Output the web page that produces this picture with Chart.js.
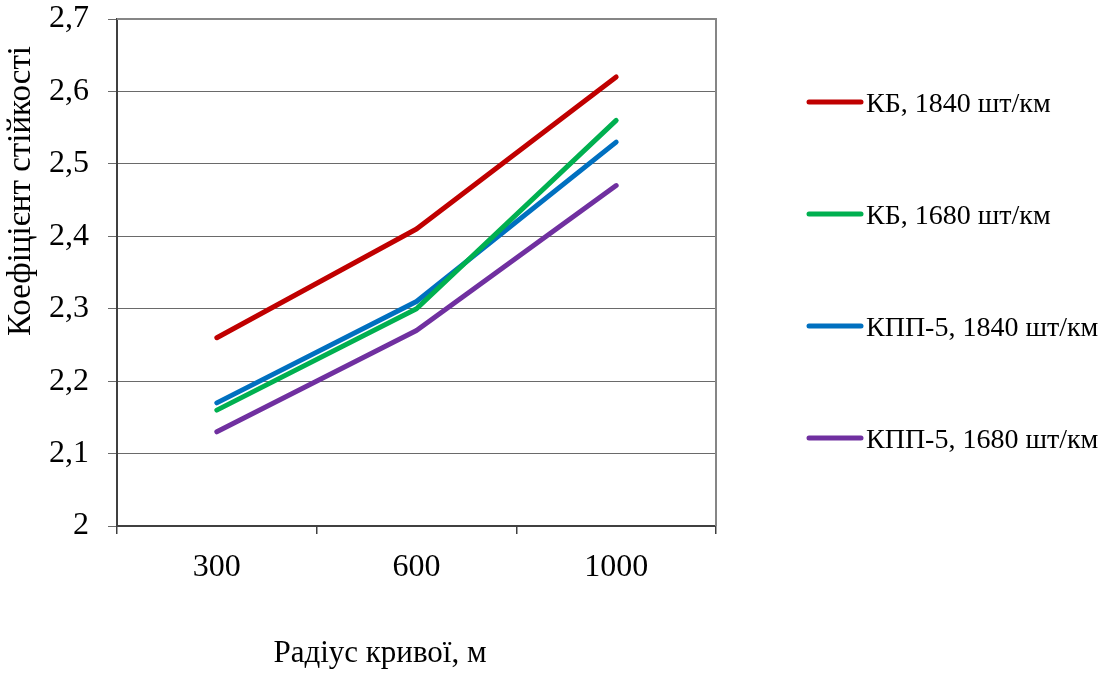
<!DOCTYPE html>
<html>
<head>
<meta charset="utf-8">
<script src="https://cdn.jsdelivr.net/npm/chart.js@4/dist/chart.umd.min.js"></script>
<style>
  html, body { margin: 0; padding: 0; background: #ffffff; }
  #wrap { width: 1103px; height: 673px; position: relative; }
</style>
</head>
<body>
<div id="wrap"><canvas id="chart" width="1103" height="673"></canvas></div>
<script>
// Радіус кривої, м
const radii = ['300', '600', '1000'];

// Коефіцієнт стійкості for each fastening type and sleeper density
const kb1840 = [2.26, 2.41, 2.62];
const kb1680 = [2.16, 2.30, 2.56];
const kpp1840 = [2.17, 2.31, 2.53];
const kpp1680 = [2.13, 2.27, 2.47];

const seriesNames = ['КБ, 1840 шт/км', 'КБ, 1680 шт/км', 'КПП-5, 1840 шт/км', 'КПП-5, 1680 шт/км'];
const seriesColors = ['#C00000', '#00B050', '#0070C0', '#7030A0'];

const yTitle = 'Коефіцієнт стійкості';
const xTitle = 'Радіус кривої, м';

const FONT = '"Liberation Serif", "Times New Roman", serif';

// Axis titles and the right-hand legend, placed like the office-style layout
const decorations = {
  id: 'decorations',
  afterDraw(chart) {
    const ctx = chart.ctx;
    const area = chart.chartArea;
    ctx.save();

    // plot frame: grey top/right, darker axes
    ctx.lineCap = 'butt';
    ctx.strokeStyle = '#868686';
    ctx.lineWidth = 2;
    ctx.beginPath();
    ctx.moveTo(area.left, area.top);
    ctx.lineTo(area.right, area.top);
    ctx.lineTo(area.right, area.bottom);
    ctx.stroke();

    ctx.fillStyle = '#000';
    ctx.textAlign = 'center';
    ctx.textBaseline = 'middle';
    ctx.font = '31px ' + FONT;
    ctx.fillText(xTitle, 380, 654);

    ctx.save();
    ctx.translate(21, 191);
    ctx.rotate(-Math.PI / 2);
    ctx.font = '33px ' + FONT;
    ctx.fillText(yTitle, 0, 0);
    ctx.restore();

    // legend
    const rows = [102, 214, 326, 438];
    chart.data.datasets.forEach((ds, i) => {
      const y = rows[i];
      ctx.strokeStyle = ds.borderColor;
      ctx.lineWidth = 5;
      ctx.lineCap = 'round';
      ctx.beginPath();
      ctx.moveTo(809, y);
      ctx.lineTo(861, y);
      ctx.stroke();
      ctx.fillStyle = '#000';
      ctx.font = '28px ' + FONT;
      ctx.textAlign = 'left';
      ctx.textBaseline = 'alphabetic';
      ctx.fillText(ds.label, 866, y + 9.5);
    });
    ctx.restore();
  }
};

new Chart(document.getElementById('chart'), {
  type: 'line',
  data: {
    labels: radii,
    datasets: [kb1840, kb1680, kpp1840, kpp1680].map((vals, i) => ({
      label: seriesNames[i],
      data: vals,
      borderColor: seriesColors[i],
      backgroundColor: seriesColors[i],
      borderWidth: 5,
      borderCapStyle: 'round',
      borderJoinStyle: 'round',
      pointRadius: 0,
      pointHoverRadius: 0,
      tension: 0,
      fill: false
    }))
  },
  options: {
    responsive: false,
    animation: false,
    devicePixelRatio: 1,
    layout: { padding: { left: 0, top: 19, right: 387, bottom: 0 } },
    plugins: {
      legend: { display: false },
      tooltip: { enabled: false },
      title: { display: false }
    },
    scales: {
      x: {
        type: 'category',
        offset: true,
        afterFit(scale) {
          scale.height = 147;
          scale.paddingLeft = 0;
          scale.paddingRight = 0;
        },
        grid: {
          offset: true,
          drawOnChartArea: false,
          drawTicks: true,
          tickLength: 8,
          color: '#404040',
          lineWidth: 1.5
        },
        border: { display: true, color: '#404040', width: 2 },
        ticks: {
          color: '#000',
          font: { family: FONT, size: 32 },
          padding: 14,
          maxRotation: 0
        }
      },
      y: {
        min: 2,
        max: 2.7,
        afterFit(scale) {
          scale.width = 117;
          scale.paddingTop = 0;
          scale.paddingBottom = 0;
        },
        grid: {
          color: '#6a6a6a',
          lineWidth: 1,
          drawTicks: true,
          tickLength: 9
        },
        border: { display: true, color: '#404040', width: 2 },
        ticks: {
          stepSize: 0.1,
          color: '#000',
          font: { family: FONT, size: 32 },
          padding: 19,
          callback: (v) => String(Math.round(v * 10) / 10).replace('.', ',')
        }
      }
    }
  },
  plugins: [decorations]
});
</script>
</body>
</html>
